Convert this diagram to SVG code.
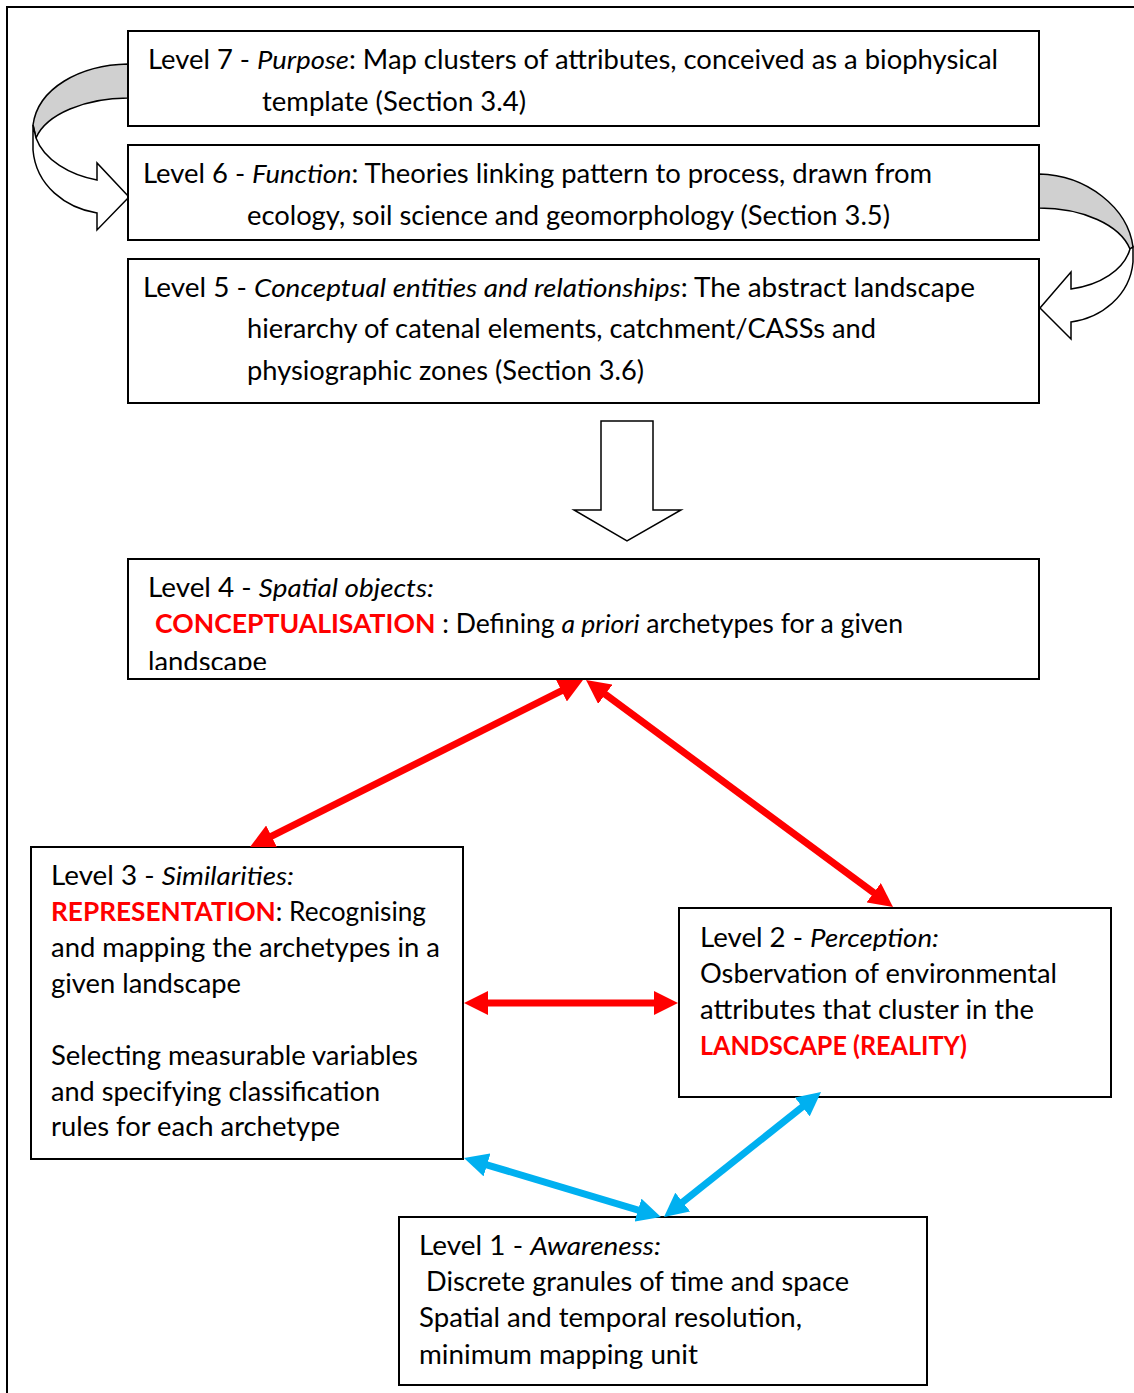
<svg xmlns="http://www.w3.org/2000/svg" width="1134" height="1393" viewBox="0 0 1134 1393">
<style>
.box{fill:#fff;stroke:#000;stroke-width:2}
text{font-family:Lato,"Open Sans","Liberation Sans",sans-serif;font-size:26px;fill:#000}
.i{font-style:italic}
.r{fill:#ff0000;font-weight:bold}
.curve{stroke:#000;stroke-width:1.5;stroke-linejoin:miter}
.red{stroke:#ff0000;stroke-width:7;fill:none}
.blue{stroke:#00b0f0;stroke-width:7;fill:none}
</style>
<defs>
<marker id="hr" markerUnits="userSpaceOnUse" markerWidth="24" markerHeight="24" viewBox="0 0 24 24" refX="2" refY="12" orient="auto-start-reverse"><path d="M0,0 L24,12 L0,24 Z" fill="#ff0000"/></marker>
<marker id="hb" markerUnits="userSpaceOnUse" markerWidth="24" markerHeight="24" viewBox="0 0 24 24" refX="2" refY="12" orient="auto-start-reverse"><path d="M0,0 L24,12 L0,24 Z" fill="#00b0f0"/></marker>
<clipPath id="c4"><rect x="129" y="560" width="909" height="110"/></clipPath>
</defs>
<rect width="1134" height="1393" fill="#fff"/>
<g id="frame" stroke="#000" stroke-width="2" fill="none"><path d="M7,1393 L7,7 L1134,7"/></g>

<g id="curved-arrows">
<g id="curve-left">
<path class="curve" fill="#d0d0d0" d="M128,64 C80,65 38,88 33,125 L36,138 C46,114 86,98 128,98 Z"/>
<path class="curve" fill="#fff" d="M33,125 L33,150 C36,186 66,208 97,213 L97,230 L129,197 L97,163 L97,180 C70,175 44,160 36,138 Z"/>
</g>
<g id="curve-right">
<path class="curve" fill="#d0d0d0" d="M1039,174 C1087,175 1128,208 1133,247 L1130,249 C1120,225 1083,208 1039,208 Z"/>
<path class="curve" fill="#fff" d="M1133,247 L1133,262 C1130,296 1101,318 1071,322 L1071,339 L1040,308 L1071,272 L1071,289 C1100,285 1124,270 1130,249 Z"/>
</g>
</g>

<g id="level7"><rect class="box" x="128" y="31" width="911" height="95"/>
<text x="148" y="69" textLength="850" lengthAdjust="spacingAndGlyphs">Level 7 - <tspan class="i">Purpose</tspan>: Map clusters of attributes, conceived as a biophysical</text>
<text x="262" y="111" textLength="264" lengthAdjust="spacingAndGlyphs">template (Section 3.4)</text></g>

<g id="level6"><rect class="box" x="128" y="145" width="911" height="95"/>
<text x="143" y="183" textLength="789" lengthAdjust="spacingAndGlyphs">Level 6 - <tspan class="i">Function</tspan>: Theories linking pattern to process, drawn from</text>
<text x="247" y="225" textLength="643" lengthAdjust="spacingAndGlyphs">ecology, soil science and geomorphology (Section 3.5)</text></g>

<g id="level5"><rect class="box" x="128" y="259" width="911" height="144"/>
<text x="143" y="297" textLength="832" lengthAdjust="spacingAndGlyphs">Level 5 - <tspan class="i">Conceptual entities and relationships</tspan>: The abstract landscape</text>
<text x="247" y="338" textLength="629" lengthAdjust="spacingAndGlyphs">hierarchy of catenal elements, catchment/CASSs and</text>
<text x="247" y="380" textLength="397" lengthAdjust="spacingAndGlyphs">physiographic zones (Section 3.6)</text></g>

<g id="down-arrow"><path d="M601,421 L653,421 L653,510 L681,510 L627,541 L574,510 L601,510 Z" fill="#fff" stroke="#000" stroke-width="1.5"/></g>

<g id="level4"><rect class="box" x="128" y="559" width="911" height="120"/>
<g clip-path="url(#c4)">
<text x="148" y="597" textLength="286" lengthAdjust="spacingAndGlyphs">Level 4 - <tspan class="i">Spatial objects:</tspan></text>
<text x="155" y="633" textLength="748" lengthAdjust="spacingAndGlyphs"><tspan class="r">CONCEPTUALISATION</tspan> : Defining <tspan class="i">a priori</tspan> archetypes for a given</text>
<text x="148" y="671" textLength="119" lengthAdjust="spacingAndGlyphs">landscape</text>
</g></g>

<g id="level3"><rect class="box" x="31" y="847" width="432" height="312"/>
<text x="51" y="885" textLength="243" lengthAdjust="spacingAndGlyphs">Level 3 - <tspan class="i">Similarities:</tspan></text>
<text x="51" y="921" textLength="375" lengthAdjust="spacingAndGlyphs"><tspan class="r">REPRESENTATION</tspan>: Recognising</text>
<text x="51" y="957" textLength="389" lengthAdjust="spacingAndGlyphs">and mapping the archetypes in a</text>
<text x="51" y="993" textLength="190" lengthAdjust="spacingAndGlyphs">given landscape</text>
<text x="51" y="1065" textLength="367" lengthAdjust="spacingAndGlyphs">Selecting measurable variables</text>
<text x="51" y="1101" textLength="329" lengthAdjust="spacingAndGlyphs">and specifying classification</text>
<text x="51" y="1136" textLength="289" lengthAdjust="spacingAndGlyphs">rules for each archetype</text></g>

<g id="level2"><rect class="box" x="679" y="908" width="432" height="189"/>
<text x="700" y="947" textLength="239" lengthAdjust="spacingAndGlyphs">Level 2 - <tspan class="i">Perception:</tspan></text>
<text x="700" y="983" textLength="357" lengthAdjust="spacingAndGlyphs">Osbervation of environmental</text>
<text x="700" y="1019" textLength="334" lengthAdjust="spacingAndGlyphs">attributes that cluster in the</text>
<text x="700" y="1055" textLength="267" lengthAdjust="spacingAndGlyphs"><tspan class="r">LANDSCAPE (REALITY)</tspan></text></g>

<g id="level1"><rect class="box" x="399" y="1217" width="528" height="168"/>
<text x="419" y="1255" textLength="242" lengthAdjust="spacingAndGlyphs">Level 1 - <tspan class="i">Awareness:</tspan></text>
<text x="426" y="1291" textLength="423" lengthAdjust="spacingAndGlyphs">Discrete granules of time and space</text>
<text x="419" y="1327" textLength="383" lengthAdjust="spacingAndGlyphs">Spatial and temporal resolution,</text>
<text x="419" y="1364" textLength="279" lengthAdjust="spacingAndGlyphs">minimum mapping unit</text></g>

<g id="connectors">
<line class="red" x1="563.3" y1="689.9" x2="269.7" y2="837.1" marker-start="url(#hr)" marker-end="url(#hr)"/>
<line class="red" x1="603.7" y1="693.1" x2="875.3" y2="893.9" marker-start="url(#hr)" marker-end="url(#hr)"/>
<line class="red" x1="486" y1="1003" x2="656" y2="1003" marker-start="url(#hr)" marker-end="url(#hr)"/>
<line class="blue" x1="485.1" y1="1164.3" x2="639.9" y2="1210.7" marker-start="url(#hb)" marker-end="url(#hb)"/>
<line class="blue" x1="681.2" y1="1203.3" x2="803.8" y2="1105.7" marker-start="url(#hb)" marker-end="url(#hb)"/>
</g>
</svg>
